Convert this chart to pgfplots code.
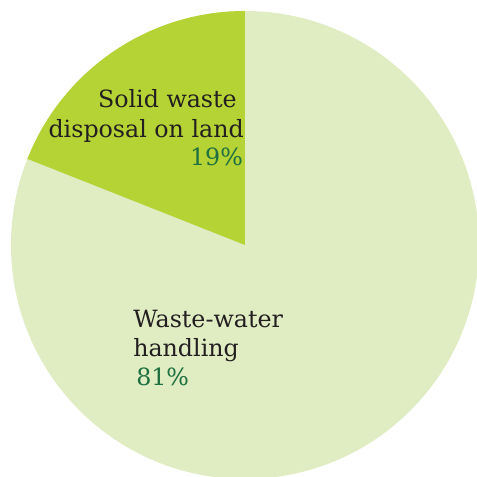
\documentclass[border=0pt]{standalone}
\usepackage{pgfplots}
\usepackage{pgfplotstable}
\usepackage{fontspec}
\setmainfont{DejaVu Serif}
\pgfplotsset{compat=1.18}
\definecolor{darkslice}{HTML}{B5D334}
\definecolor{lightslice}{HTML}{E0ECC2}
\definecolor{pctgreen}{HTML}{1E7040}
\definecolor{txt}{HTML}{231F20}
\pgfplotstableread{
label value
Solid 19
Waste 81
}\piedata
\begin{document}
\begin{tikzpicture}
\pgfplotstablegetelem{0}{value}\of\piedata
\pgfmathsetmacro{\vA}{\pgfplotsretval}
\pgfmathsetmacro{\angA}{90+3.6*\vA}
\begin{axis}[width=357.75bp, height=357.75bp, scale only axis, hide axis,
  xmin=-1.047, xmax=0.9915, ymin=-0.9915, ymax=1.047, clip=true]
\fill[lightslice] (axis cs:0,0) -- (axis cs:0,1) arc[start angle=90, end angle=-270, radius=175.5bp] -- cycle;
\fill[darkslice] (axis cs:0,0) -- (axis cs:0,1) arc[start angle=90, end angle=\angA, radius=175.5bp] -- cycle;
\begin{scope}[font=\fontsize{17.8bp}{21bp}\selectfont, inner sep=0pt]
\node[anchor=base east, text=txt] at (axis cs:-0.034,0.5855) {Solid waste};
\node[anchor=base east, text=txt] at (axis cs:-0.004,0.4615) {disposal on land};
\node[anchor=base east, text=pctgreen] at (axis cs:-0.008,0.3376) {19\%};
\node[anchor=base west, text=txt] at (axis cs:-0.4786,-0.3547) {Waste-water};
\node[anchor=base west, text=txt] at (axis cs:-0.4786,-0.4744) {handling};
\node[anchor=base west, text=pctgreen] at (axis cs:-0.4658,-0.6026) {81\%};
\end{scope}
\end{axis}
\pgfresetboundingbox
\useasboundingbox (current axis.south west) rectangle (current axis.north east);
\end{tikzpicture}
\end{document}
